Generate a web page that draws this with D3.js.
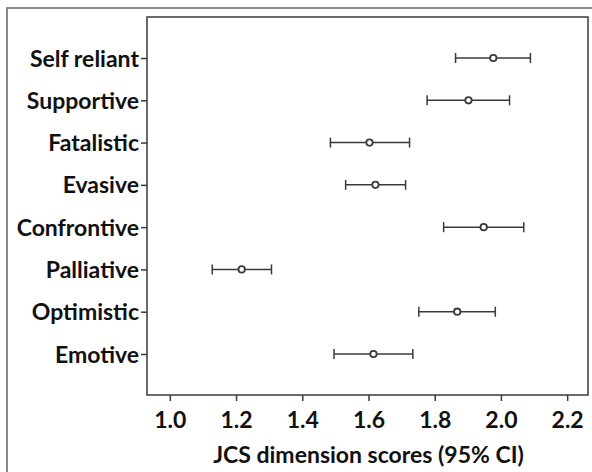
<!DOCTYPE html>
<html>
<head>
<meta charset="utf-8">
<script src="https://cdn.jsdelivr.net/npm/d3@7"></script>
<style>
  body { margin: 0; background: #fff; }
  svg text { font-family: Lato, "Open Sans", sans-serif; font-weight: bold; fill: #111; }
</style>
</head>
<body>
<div id="chart"></div>
<script>
// Data
const categories = ['Self reliant', 'Supportive', 'Fatalistic', 'Evasive', 'Confrontive', 'Palliative', 'Optimistic', 'Emotive'];
const means = [1.977, 1.902, 1.603, 1.621, 1.948, 1.217, 1.868, 1.615];
const lower = [1.863, 1.777, 1.485, 1.531, 1.827, 1.128, 1.752, 1.496];
const upper = [2.089, 2.026, 1.724, 1.712, 2.069, 1.307, 1.983, 1.734];
const xTicks = [1.0, 1.2, 1.4, 1.6, 1.8, 2.0, 2.2];
const xTitle = 'JCS dimension scores (95% CI)';

const rows = categories.map((c, i) => ({ name: c, mean: means[i], lo: lower[i], hi: upper[i] }));

const W = 592, H = 472;
const margin = { top: 17, right: 4, bottom: 77, left: 147 };
const width = W - margin.left - margin.right;
const height = H - margin.top - margin.bottom;

const svg = d3.select('#chart')
    .append('svg')
    .attr('width', W)
    .attr('height', H);

// outer frame of the figure
svg.append('rect')
    .attr('x', 7).attr('y', 8)
    .attr('width', W + 10).attr('height', H + 10)
    .attr('fill', 'none')
    .attr('stroke', '#8a8a8a')
    .attr('stroke-width', 2);

const g = svg.append('g')
    .attr('transform', `translate(${margin.left},${margin.top})`);

const x = d3.scaleLinear()
    .domain([0.931, 2.263])
    .range([0, width]);

const y = d3.scalePoint()
    .domain(categories)
    .range([0, height])
    .padding(0.97);

// plot box
g.append('rect')
    .attr('width', width).attr('height', height)
    .attr('fill', 'none')
    .attr('stroke', '#3a3a3a')
    .attr('stroke-width', 1.5);

const xAxis = g.append('g')
    .attr('transform', `translate(0,${height})`)
    .call(d3.axisBottom(x).tickValues(xTicks).tickFormat(d3.format('.1f')).tickSize(6).tickSizeOuter(0));

const yAxis = g.append('g')
    .call(d3.axisLeft(y).tickSize(6).tickSizeOuter(0));

[xAxis, yAxis].forEach(a => {
    a.select('.domain').remove();
    a.selectAll('.tick line').attr('stroke', '#3a3a3a').attr('stroke-width', 1.5);
    a.selectAll('text').attr('font-size', 23).attr('fill', '#111');
});
xAxis.selectAll('text').attr('y', 0).attr('dy', '1.45em');
yAxis.selectAll('text').attr('x', -8).attr('dy', '0.35em');

g.append('text')
    .attr('x', x(1.6))
    .attr('y', height + 68)
    .attr('text-anchor', 'middle')
    .attr('font-size', 23)
    .text(xTitle);

// error bars
const bars = g.selectAll('.bar')
    .data(rows)
    .enter()
    .append('g')
    .attr('class', 'bar')
    .attr('stroke', '#3a3a3a')
    .attr('stroke-width', 1.5);

bars.append('line')
    .attr('x1', d => x(d.lo)).attr('x2', d => x(d.hi))
    .attr('y1', d => y(d.name)).attr('y2', d => y(d.name));

bars.append('line')
    .attr('x1', d => x(d.lo)).attr('x2', d => x(d.lo))
    .attr('y1', d => y(d.name) - 5).attr('y2', d => y(d.name) + 5);

bars.append('line')
    .attr('x1', d => x(d.hi)).attr('x2', d => x(d.hi))
    .attr('y1', d => y(d.name) - 5).attr('y2', d => y(d.name) + 5);

bars.append('circle')
    .attr('cx', d => x(d.mean))
    .attr('cy', d => y(d.name))
    .attr('r', 3.2)
    .attr('stroke-width', 1.8)
    .attr('fill', '#fff');
</script>
</body>
</html>
